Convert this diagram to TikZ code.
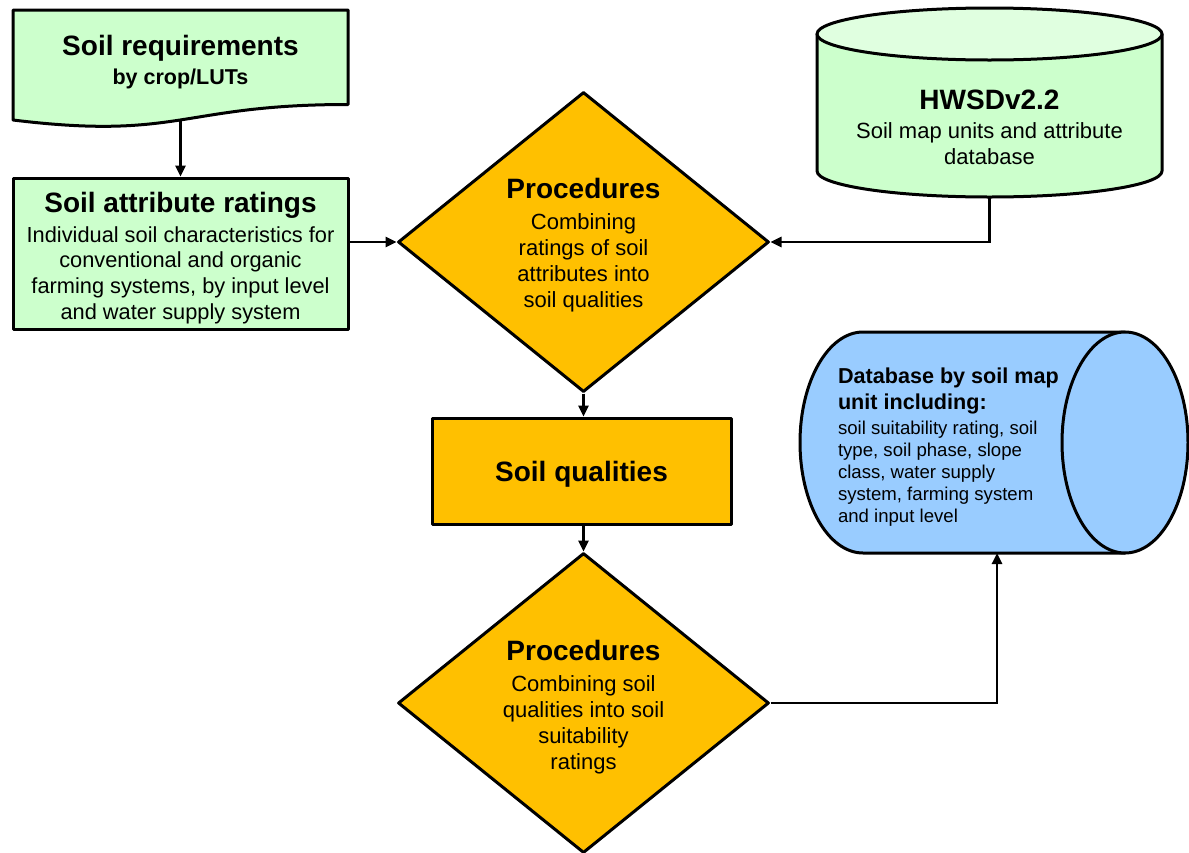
\documentclass[tikz,border=0pt]{standalone}
\usepackage{fontspec}
\setmainfont{Liberation Sans}
\usetikzlibrary{shapes.geometric,arrows.meta}
\definecolor{lgreen}{HTML}{CCFFCC}
\definecolor{lgreentop}{HTML}{E0FFE0}
\definecolor{gold}{HTML}{FFC000}
\definecolor{lblue}{HTML}{99CCFF}
\newcommand{\ttlfont}{\fontsize{28}{32}\selectfont\bfseries}
\newcommand{\bdyfont}{\fontsize{22}{26}\selectfont}
\begin{document}
\begin{tikzpicture}[x=1pt,y=-1pt,
  outline/.style={draw=black,line width=3pt,line join=round},
  conn/.style={draw=black,line width=2.5pt,-{Triangle[length=11pt,width=10pt]}},
  txt/.style={inner sep=0pt,outer sep=0pt,align=flush center},
  ghost/.style={inner sep=0pt,outer sep=0pt},
  diam/.style={outline,shape=diamond,fill=gold,minimum width=371,minimum height=300,inner sep=0pt}]
\useasboundingbox (0,0) rectangle (1189,852);

% Soil requirements (document shape)
\draw[outline,fill=lgreen] (13,10) -- (348,10) -- (348,104.5)
  .. controls (180.5,104.5) and (180.5,140.5) .. (13,120) -- cycle;
\node[ghost,minimum width=335,minimum height=110] (req) at (180.5,65) {};
\node[txt,text width=320] (reqt) at (180.5,62)
  {{\ttlfont Soil requirements\par}{\fontsize{21.5}{29}\selectfont\bfseries by crop/LUTs\par}};
\coordinate (reqbot) at (180.5,121);

% Soil attribute ratings
\node[outline,fill=lgreen,minimum width=335,minimum height=151,inner sep=0pt] (attr) at (180.5,253.5) {};
\node[txt,text width=330] (attrt) at (180.5,258)
  {{\ttlfont Soil attribute ratings\par}\vspace{4pt}{\fontsize{21.8}{25.8}\selectfont Individual soil characteristics for\\conventional and organic\\farming systems, by input level\\and water supply system\par}};

% Procedures 1
\node[diam] (p1) at (583.5,242) {};
\node[txt,text width=250] (p1t) at (583.5,245)
  {{\ttlfont Procedures\par}\vspace{5pt}{\bdyfont Combining\\ratings of soil\\attributes into\\soil qualities\par}};

% HWSD cylinder
\draw[outline,fill=lgreen] (817,34) -- (817,171)
  arc[start angle=180,end angle=0,x radius=172.5,y radius=26] -- (1162,34) -- cycle;
\draw[outline,fill=lgreentop] (989.5,34) ellipse[x radius=172.5,y radius=26];
\node[ghost,minimum width=345,minimum height=189] (hwsd) at (989.5,102.5) {};
\node[txt,text width=320] (hwsdt) at (989.5,127)
  {{\ttlfont HWSDv2.2\par}\vspace{3pt}{\bdyfont Soil map units and attribute\\database\par}};

% Soil qualities
\node[outline,fill=gold,minimum width=299,minimum height=106,inner sep=0pt,font=\ttlfont,text height=20pt,text depth=0pt] (sq) at (581.5,471) {Soil qualities};

% Procedures 2
\node[diam] (p2) at (583.5,703) {};
\node[txt,text width=250] (p2t) at (583.5,707.5)
  {{\ttlfont Procedures\par}\vspace{5pt}{\bdyfont Combining soil\\qualities into soil\\suitability\\ratings\par}};

% Database cylinder (horizontal)
\draw[outline,fill=lblue] (1125,332) -- (863,332)
  arc[start angle=270,end angle=90,x radius=63,y radius=110.5] -- (1125,553) -- cycle;
\draw[outline,fill=lblue] (1125,442.5) ellipse[x radius=63,y radius=110.5];
\node[ghost,minimum width=382,minimum height=221] (db) at (997,442.5) {};
\node[inner sep=0pt,outer sep=0pt,anchor=west,align=flush left,text width=235] (dbt) at (838,447)
  {{\fontsize{21.6}{26}\selectfont\bfseries Database by soil map\\unit including:\par}\vspace{3pt}{\fontsize{18.6}{22}\selectfont soil suitability rating, soil\\type, soil phase, slope\\class, water supply\\system, farming system\\and input level\par}};

% Connectors
\draw[conn] (reqbot) -- (attr.north);
\draw[conn] (attr.east |- p1.west) -- (p1.west);
\draw[conn] (hwsd.south) |- (p1.east);
\draw[conn] (p1.south) -- (p1.south |- sq.north);
\draw[conn] (p2.north |- sq.south) -- (p2.north);
\draw[conn] (p2.east) -| (db.south);
\end{tikzpicture}
\end{document}
